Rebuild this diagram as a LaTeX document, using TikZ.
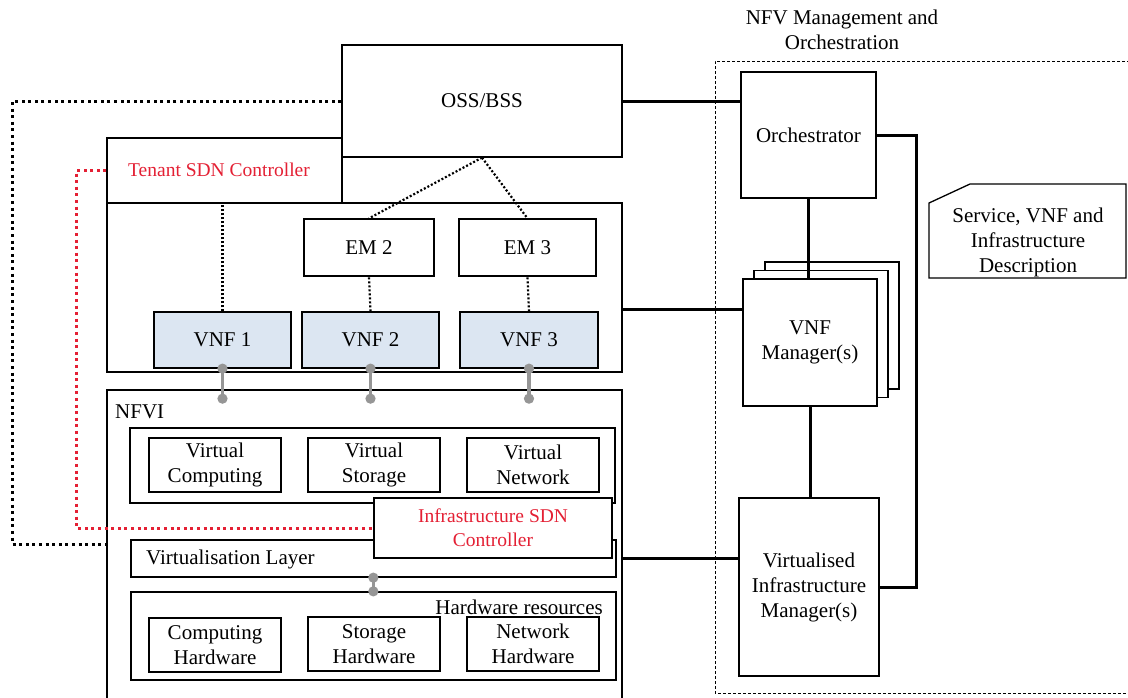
\documentclass[tikz,border=0pt]{standalone}
\usepackage{fontspec}
\setmainfont{Liberation Serif}
\usetikzlibrary{arrows.meta,shadows}

\definecolor{vnfblue}{RGB}{220,230,242}
\definecolor{sdnred}{RGB}{228,32,52}
\definecolor{linkgrey}{RGB}{150,150,150}
\newcommand\mainsize{\fontsize{21}{25}\selectfont}
\newcommand\sdnsize{\fontsize{19.5}{24}\selectfont}

\begin{document}
\begin{tikzpicture}[
  x=1pt, y=-1pt,
  every node/.style={font=\mainsize, align=center, inner sep=0pt},
  box/.style={draw, line width=1.3pt, fill=white},
  vnfbox/.style={box, fill=vnfblue},
  sdntext/.style={text=sdnred, font=\sdnsize},
  link/.style={line width=3pt},
  thindots/.style={line width=2.2pt, dash pattern=on 2pt off 2pt},
  blackdots/.style={line width=3pt, dash pattern=on 3pt off 3.6pt},
  reddots/.style={blackdots, draw=sdnred},
  greylink/.style={draw=linkgrey, line width=3.2pt, {Circle[length=10pt]}-{Circle[length=10pt]}}
]
  \useasboundingbox (0,0) rectangle (1128,697);

  % NFV management and orchestration block
  \node (manotitle) at (842,30) {NFV Management and\\Orchestration};
  \draw[line width=1pt, dash pattern=on 3pt off 2pt] (1130,61) -- (715,61) -- (715,693) -- (1130,693);
  \node[box, minimum width=135, minimum height=126] (orch) at (808.5,135) {Orchestrator};
  \node[box, minimum width=134, minimum height=127,
        double copy shadow={shadow xshift=11pt, shadow yshift=8.5pt}] (vnfm) at (810,342.5) {VNF\\Manager(s)};
  \node[box, minimum width=140, minimum height=178] (vim) at (809,587) {Virtualised\\Infrastructure\\Manager(s)};
  \draw[line width=1.3pt] (929,203) -- (970,184) -- (1126,184) -- (1126,278) -- (929,278) -- cycle;
  \node (desc) at (1028,242) {Service, VNF and\\Infrastructure\\Description};

  % OSS/BSS, tenant controller and VNF layer
  \node[box, minimum width=280, minimum height=112] (oss) at (482,101) {OSS/BSS};
  \node[box, minimum width=235, minimum height=65] (tenant) at (224.5,170.5) {};
  \node[sdntext] (tenanttxt) at (219,170) {Tenant SDN Controller};
  \node[box, minimum width=515, minimum height=169] (vnfarea) at (364.5,287.5) {};
  \node[box, minimum width=130, minimum height=57] (em2) at (369,247.5) {EM 2};
  \node[box, minimum width=137, minimum height=57] (em3) at (527.5,247.5) {EM 3};
  \node[vnfbox, minimum width=137, minimum height=56] (vnf1) at (222.5,340) {VNF 1};
  \node[vnfbox, minimum width=137, minimum height=56] (vnf2) at (370.5,340) {VNF 2};
  \node[vnfbox, minimum width=138, minimum height=56] (vnf3) at (529,340) {VNF 3};

  % NFVI
  \coordinate (nfvinw) at (107,390);
  \coordinate (nfvine) at (622,390);
  \draw[line width=1.3pt] (107,700) -- (nfvinw) -- (nfvine) -- (622,700);
  \node[anchor=west] (nfvitxt) at (115,412) {NFVI};
  \node[box, minimum width=485, minimum height=75] (virtarea) at (372.5,465.5) {};
  \node[box, minimum width=132, minimum height=54] (vcomp) at (215,465) {Virtual\\Computing};
  \node[box, minimum width=132, minimum height=54] (vstor) at (374,465) {Virtual\\Storage};
  \node[box, minimum width=132, minimum height=54] (vnet) at (533,465) {Virtual\\Network};
  \node[box, minimum width=485, minimum height=37] (vlayer) at (373.5,558.5) {};
  \node[anchor=west] (vlayertxt) at (146,559) {Virtualisation Layer};
  \node[box, minimum width=238, minimum height=60] (infrasdn) at (493,528) {};
  \node[sdntext] (infrasdntxt) at (493,528) {Infrastructure SDN\\Controller};
  \node[box, minimum width=485, minimum height=88] (hwarea) at (373.5,636) {};
  \node[anchor=east] (hwtxt) at (603,607) {Hardware resources};
  \node[box, minimum width=132, minimum height=54] (chw) at (215,645) {Computing\\Hardware};
  \node[box, minimum width=132, minimum height=54] (shw) at (374,644) {Storage\\Hardware};
  \node[box, minimum width=132, minimum height=54] (nhw) at (533,644) {Network\\Hardware};

  % reference points
  \coordinate (ossnfvi) at (107,544);
  \coordinate (vnfmin) at (743,309);

  % connectors
  \draw[link] (oss.east) -- (oss.east -| orch.west);
  \draw[link] (orch.east) -- ++(40,0) |- (vim.east);
  \draw[link] (orch.south) -- (orch.south |- vnfm.north);
  \draw[link] (vnfm.south) -- (vnfm.south |- vim.north);
  \draw[link] (vnfmin -| vnfarea.east) -- (vnfmin);
  \draw[link] (vlayer.east -| nfvine) -- (vlayer.east -| vim.west);

  \draw[thindots] (oss.south) -- (em2.north);
  \draw[thindots] (oss.south) -- (em3.north);
  \draw[thindots] (vnf1.north) -- (vnf1.north |- vnfarea.north);
  \draw[thindots] (vnf2.north) -- (em2.south);
  \draw[thindots] (vnf3.north) -- (em3.south);

  \draw[blackdots] (oss.west) -- ++(-329,0) |- (ossnfvi);
  \draw[reddots] (tenant.west) -- ++(-30,0) |- (infrasdn.west);

  \foreach \v in {vnf1,vnf2,vnf3}
    \draw[greylink] ([yshift=5pt]\v.south) -- ++(0,40);
  \draw[greylink] ([yshift=5pt]infrasdn.west |- vlayer.south) -- ([yshift=-5pt]infrasdn.west |- hwarea.north);
\end{tikzpicture}
\end{document}
